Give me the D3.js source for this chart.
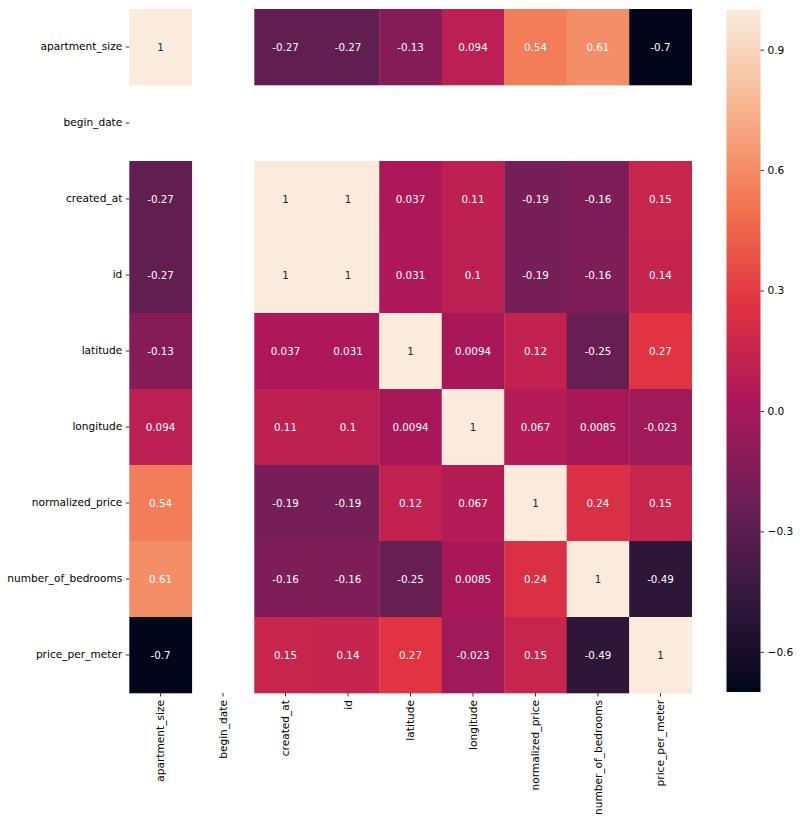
<!DOCTYPE html>
<html>
<head>
<meta charset="utf-8">
<script src="https://cdn.jsdelivr.net/npm/d3@7"></script>
<style>
  body { margin: 0; background: #fff; }
  text { font-family: "DejaVu Sans", sans-serif; }
</style>
</head>
<body>
<script>
var columns = ["apartment_size", "begin_date", "created_at", "id", "latitude",
    "longitude", "normalized_price", "number_of_bedrooms", "price_per_meter"];

// correlation matrix, null = NaN (begin_date)
var apartmentSize    = [1, null, -0.27, -0.27, -0.13, 0.094, 0.54, 0.61, -0.7];
var beginDate        = [null, null, null, null, null, null, null, null, null];
var createdAt        = [-0.27, null, 1, 1, 0.037, 0.11, -0.19, -0.16, 0.15];
var idRow            = [-0.27, null, 1, 1, 0.031, 0.1, -0.19, -0.16, 0.14];
var latitude         = [-0.13, null, 0.037, 0.031, 1, 0.0094, 0.12, -0.25, 0.27];
var longitude        = [0.094, null, 0.11, 0.1, 0.0094, 1, 0.067, 0.0085, -0.023];
var normalizedPrice  = [0.54, null, -0.19, -0.19, 0.12, 0.067, 1, 0.24, 0.15];
var numberOfBedrooms = [0.61, null, -0.16, -0.16, -0.25, 0.0085, 0.24, 1, -0.49];
var pricePerMeter    = [-0.7, null, 0.15, 0.14, 0.27, -0.023, 0.15, -0.49, 1];

var rows = [apartmentSize, beginDate, createdAt, idRow, latitude,
    longitude, normalizedPrice, numberOfBedrooms, pricePerMeter];

var colorbarTicks = [-0.6, -0.3, 0, 0.3, 0.6, 0.9];
var vmin = -0.7, vmax = 1;

// rocket colormap stops
var rocket = ["#03051a", "#35193e", "#701f57", "#ad1759", "#e13342", "#f37651", "#f6b48f", "#faebdd"];
var rocketInterp = d3.piecewise(d3.interpolateRgb, rocket);

var color = d3.scaleSequential(rocketInterp).domain([vmin, vmax]);

var width = 800, height = 822;
var labelSize = "10.6px";

var svg = d3.select("body").append("svg")
    .attr("width", width)
    .attr("height", height);

var x = d3.scaleBand()
    .domain(columns)
    .range([129.3, 691.7]);

var y = d3.scaleBand()
    .domain(columns)
    .range([9, 693]);

var cells = [];
rows.forEach(function(r, i) {
  r.forEach(function(v, j) {
    if (v !== null) cells.push({row: columns[i], col: columns[j], value: v});
  });
});

var fmt = d3.formatLocale({decimal: ".", thousands: ",", grouping: [3], currency: ["", ""], minus: "-"})
    .format(".2~g");

function lum(c) {
  var rgb = d3.rgb(c);
  var lin = [rgb.r, rgb.g, rgb.b].map(function(v) {
    v = v / 255;
    return v <= 0.03928 ? v / 12.92 : Math.pow((v + 0.055) / 1.055, 2.4);
  });
  return 0.2126 * lin[0] + 0.7152 * lin[1] + 0.0722 * lin[2];
}

var g = svg.append("g");

g.selectAll("rect.cell")
    .data(cells)
  .enter().append("rect")
    .attr("class", "cell")
    .attr("x", function(d) { return x(d.col); })
    .attr("y", function(d) { return y(d.row); })
    .attr("width", x.bandwidth() + 0.3)
    .attr("height", y.bandwidth() + 0.3)
    .attr("fill", function(d) { return color(d.value); });

g.selectAll("text.annot")
    .data(cells)
  .enter().append("text")
    .attr("class", "annot")
    .attr("x", function(d) { return x(d.col) + x.bandwidth() / 2; })
    .attr("y", function(d) { return y(d.row) + y.bandwidth() / 2; })
    .attr("text-anchor", "middle")
    .attr("dy", "0.35em")
    .attr("font-size", "10.3px")
    .attr("fill", function(d) { return lum(color(d.value)) > 0.408 ? "#262626" : "#fff"; })
    .text(function(d) { return fmt(d.value); });

// axes
var yAxis = d3.axisLeft(y).tickSize(3.5).tickPadding(3.5);
var xAxis = d3.axisBottom(x).tickSize(3.5).tickPadding(3.5);

var gy = svg.append("g")
    .attr("transform", "translate(129.3,0)")
    .call(yAxis);
gy.select(".domain").remove();
gy.selectAll("text").attr("font-size", labelSize).attr("fill", "#000")
    .attr("font-family", "DejaVu Sans, sans-serif");
gy.selectAll("line").attr("stroke", "#000").attr("stroke-width", 0.8);

var gx = svg.append("g")
    .attr("transform", "translate(0,693)")
    .call(xAxis);
gx.select(".domain").remove();
gx.selectAll("line").attr("stroke", "#000").attr("stroke-width", 0.8);
gx.selectAll("text")
    .attr("font-size", labelSize)
    .attr("fill", "#000")
    .attr("font-family", "DejaVu Sans, sans-serif")
    .attr("transform", "rotate(-90)")
    .attr("text-anchor", "end")
    .attr("x", -7)
    .attr("y", 0)
    .attr("dy", "0.35em");

// colorbar
var cbX = 726.5, cbW = 34;
var cy = d3.scaleLinear().domain([vmin, vmax]).range([692, 9.5]);

var defs = svg.append("defs");
var grad = defs.append("linearGradient")
    .attr("id", "cbgrad")
    .attr("x1", 0).attr("y1", 1).attr("x2", 0).attr("y2", 0);
d3.range(0, 1.0001, 0.02).forEach(function(t) {
  grad.append("stop")
      .attr("offset", t)
      .attr("stop-color", rocketInterp(t));
});

svg.append("rect")
    .attr("x", cbX)
    .attr("y", cy(vmax))
    .attr("width", cbW)
    .attr("height", cy(vmin) - cy(vmax))
    .attr("fill", "url(#cbgrad)");

var cbAxis = d3.axisRight(cy)
    .tickValues(colorbarTicks)
    .tickFormat(d3.format(".1f"))
    .tickSize(3.5)
    .tickPadding(3.5);

var gc = svg.append("g")
    .attr("transform", "translate(" + (cbX + cbW) + ",0)")
    .call(cbAxis);
gc.select(".domain").remove();
gc.selectAll("line").attr("stroke", "#000").attr("stroke-width", 0.8);
gc.selectAll("text").attr("font-size", labelSize).attr("fill", "#000")
    .attr("font-family", "DejaVu Sans, sans-serif");
</script>
</body>
</html>
